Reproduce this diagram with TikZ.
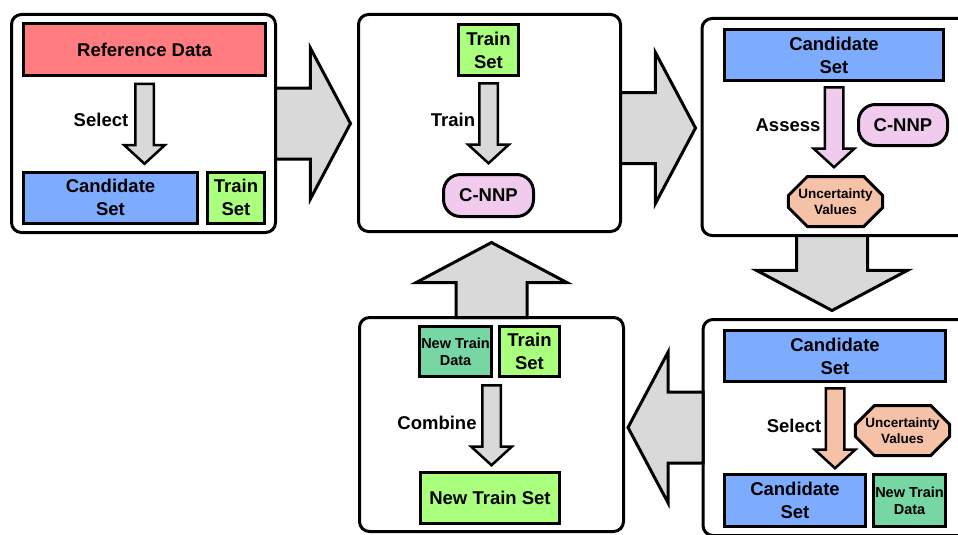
\documentclass[tikz,border=0pt]{standalone}
\usepackage{fontspec}
\setmainfont{Liberation Sans}
\usetikzlibrary{shapes.arrows, shapes.misc}

\definecolor{refred}{RGB}{255,124,128}
\definecolor{candblue}{RGB}{125,172,255}
\definecolor{traingreen}{RGB}{170,255,125}
\definecolor{newteal}{RGB}{118,214,164}
\definecolor{nnppink}{RGB}{241,203,238}
\definecolor{uncpeach}{RGB}{245,194,168}
\definecolor{arrowgray}{RGB}{217,217,217}

\tikzset{
    every node/.style={font=\bfseries\fontsize{18.5}{23}\selectfont, inner sep=0pt,
    	align=center},
    stage/.style={draw, line width=3pt, rounded corners=10pt, fill=white, outer sep=0pt},
    data/.style={draw, line width=3pt, minimum height=51pt},
    newdata/.style={data, fill=newteal, minimum width=72pt,
    	font=\bfseries\fontsize{14.5}{17}\selectfont},
    model/.style={draw, line width=3pt, fill=nnppink, rounded corners=17pt},
    uncert/.style={draw, line width=3pt, fill=uncpeach, chamfered rectangle,
    	chamfered rectangle xsep=10pt, chamfered rectangle ysep=9pt,
    	minimum width=88pt, minimum height=50pt,
    	font=\bfseries\fontsize{13.5}{16}\selectfont},
    thinarrow/.style={draw, line width=2.5pt, fill=#1, single arrow,
    	inner ysep=8pt, single arrow head extend=11pt, single arrow tip angle=95,
    	minimum height=80pt, anchor=tail, rotate=-90},
    bigarrow/.style={draw, line width=3pt, fill=arrowgray, single arrow,
    	inner ysep=34pt, single arrow head extend=40pt, single arrow tip angle=124,
    	minimum height=75pt, anchor=tail, outer sep=0pt}
}

\begin{document}
\begin{tikzpicture}[x=1pt, y=-1pt]
	\useasboundingbox (0,0) rectangle (958,535);
	\clip (0,0) rectangle (958,535);

	% the five stages
	\node (s1) [stage, minimum width=264pt, minimum height=218pt] at (143.5,123.5) {};
	\node (s2) [stage, minimum width=262pt, minimum height=217pt] at (489.5,123) {};
	\node (s3) [stage, minimum width=268pt, minimum height=217pt] at (836,127) {};
	\node (s4) [stage, minimum width=268pt, minimum height=216pt] at (837,427.5) {};
	\node (s5) [stage, minimum width=264pt, minimum height=214pt] at (491.5,424.5) {};

	% stage 1
	\node (ref1) [data, fill=refred, minimum width=242pt] at (144.5,49.5) {Reference Data};
	\node (cand1) [data, fill=candblue, minimum width=174pt] at (110.5,197.5) {Candidate\\Set};
	\node (train1) [data, fill=traingreen, minimum width=57pt] at (236,197.5) {Train\\Set};
	\node (sel1) [thinarrow=arrowgray] at ([yshift=-6pt]ref1.south) {};
	\node (sel1l) at (101,120) {Select};

	% stage 2
	\node (train2) [data, fill=traingreen, minimum width=60pt] at (488.5,50) {Train\\Set};
	\node (tr2) [thinarrow=arrowgray] at ([yshift=-5pt]train2.south) {};
	\node (tr2l) at (453,120) {Train};
	\node (nnp2) [model, minimum width=90pt, minimum height=42pt] at (488.5,195.5) {C-NNP};

	% stage 3
	\node (cand3) [data, fill=candblue, minimum width=219pt] at (834,55) {Candidate\\Set};
	\node (as3) [thinarrow=nnppink] at ([yshift=-4pt]cand3.south) {};
	\node (as3l) at (788,125) {Assess};
	\node (nnp3) [model, minimum width=89pt, minimum height=41pt] at (903,125) {C-NNP};
	\node (unc3) [uncert] at (835.5,201.5) {Uncertainty\\Values};

	% stage 4
	\node (cand4) [data, fill=candblue, minimum width=221pt] at (835,356) {Candidate\\Set};
	\node (sel4) [thinarrow=uncpeach] at ([yshift=-4pt]cand4.south) {};
	\node (sel4l) at (794,426) {Select};
	\node (unc4) [uncert] at (902.5,430.5) {Uncertainty\\Values};
	\node (cand4b) [data, fill=candblue, minimum width=141pt, minimum height=52pt] at (795,500.5) {Candidate\\Set};
	\node (new4) [newdata, minimum height=52pt] at (909.5,500.5) {New Train\\Data};

	% stage 5
	\node (new5) [newdata, minimum height=50pt] at (455.5,351.5) {New Train\\Data};
	\node (train5) [data, fill=traingreen, minimum width=60pt, minimum height=50pt] at (529.5,351.5) {Train\\Set};
	\node (comb5) [thinarrow=arrowgray] at ([yshift=-6pt]new5.south -| s5.north) {};
	\node (comb5l) at (437,423) {Combine};
	\node (nts5) [data, fill=traingreen, minimum width=139pt] at (490,498) {New Train Set};

	% flow between stages
	\node (a12) [bigarrow] at (s1.east) {};
	\node (a23) [bigarrow] at ([yshift=-5pt]s2.east) {};
	\node (a34) [bigarrow, rotate=-90] at ([xshift=-4pt]s3.south) {};
	\node (a45) [bigarrow, rotate=180] at (s4.west) {};
	\node (a52) [bigarrow, rotate=90] at (s5.north) {};
\end{tikzpicture}
\end{document}
